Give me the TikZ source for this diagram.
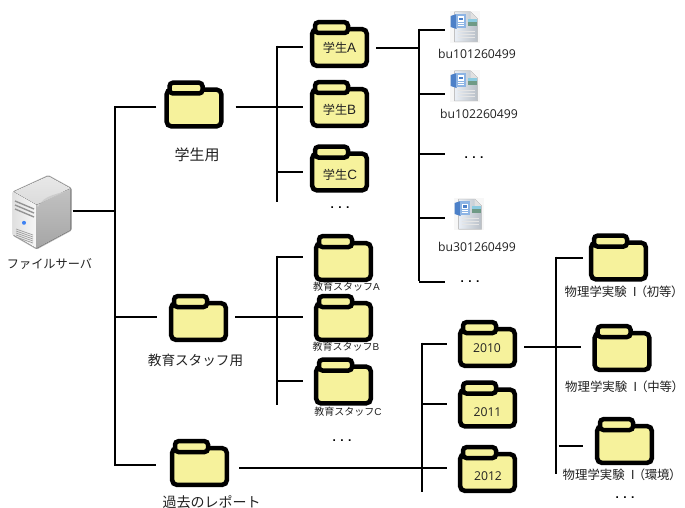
\documentclass[tikz,border=0pt]{standalone}
\usepackage{fontspec}
\setmainfont{Noto Sans CJK JP}
\newfontfamily\latinf{Liberation Sans}
\newfontfamily\filef{Open Sans}
\usetikzlibrary{calc}
\definecolor{fyellow}{HTML}{F6F29C}
\definecolor{ink}{HTML}{222222}
\definecolor{wlight}{HTML}{8DB4E4}
\definecolor{wdark}{HTML}{4C80C8}
\definecolor{wsky}{HTML}{8CCBE0}
\definecolor{wland}{HTML}{6F9A86}
\definecolor{wpage}{HTML}{DCE5F0}
\newcommand{\physlab}[1]{物理学実験\kern2ptⅠ\kern-.5pt{\addfontfeature{RawFeature=+palt}（#1）}}
\tikzset{
  conn/.style={draw=black,line width=2.8pt,line cap=butt,line join=miter},
  fbody/.style={draw=black,fill=fyellow,line width=4.5pt,rounded corners=4.5pt},
  fbox/.style={inner sep=0pt,minimum width=59pt,minimum height=41pt},
  txt/.style={inner sep=0pt,text=ink},
  dotsn/.style={inner sep=0pt,anchor=base,text=black,font=\fontsize{12}{14}\selectfont\latinf\bfseries},
  s15/.style={txt,font=\fontsize{15}{17}\selectfont},
  s14/.style={txt,font=\fontsize{14}{16}\selectfont},
  s13/.style={txt,font=\fontsize{13.6}{16}\selectfont},
  s12/.style={txt,font=\fontsize{12.2}{14}\selectfont},
  sp12/.style={txt,anchor=west,font=\fontsize{12.4}{14}\selectfont},
  s10/.style={txt,font=\fontsize{10}{11}\selectfont},
  fname/.style={txt,font=\fontsize{12.2}{14}\selectfont\filef},
}
\newcommand{\fldr}[3]{%
  \begin{scope}[shift={(#2,#3)}]
    \draw[fbody] (-27.3,-18.3) rectangle (27.3,18.3);
    \draw[fbody,rounded corners=3.5pt] (-24.5,-25.3) rectangle (8.5,-14.5);
  \end{scope}
  \node[fbox] (#1) at (#2,#3) {};}
\newcommand{\wordicon}[3]{%
  \begin{scope}[shift={(#2,#3)}]
    \fill[black!3] (0,0) rectangle (30,32);
    \fill[left color=wpage!60!white,right color=wpage!80!black!90] (5,1) -- (21,1) -- (28,8) -- (28,31) -- (5,31) -- cycle;
    \draw[black!22,line width=.5pt] (5,1) -- (21,1) -- (28,8) -- (28,31) -- (5,31) -- cycle;
    \fill[white!88!black] (21,1) -- (21,8) -- (28,8) -- cycle;
    \foreach \yy in {20,23,26} \draw[black!10,line width=.6pt] (8,\yy) -- (25,\yy);
    \fill[wdark] (1,5) -- (7,3) -- (7,18) -- (1,16) -- cycle;
    \fill[wlight] (6,3) rectangle (16,17);
    \fill[white] (8,5.5) rectangle (14.5,11);
    \fill[wdark] (9,7) rectangle (13.5,9.5);
    \foreach \yy in {12.5,14.5} \draw[white,line width=.7pt] (8,\yy) -- (14.5,\yy);
    \fill[wsky] (18,8) rectangle (27,11);
    \fill[wland] (18,11) rectangle (27,15);
  \end{scope}
  \node[inner sep=0pt,minimum width=30pt,minimum height=32pt] (#1) at (#2+15,#3+16) {};}
\begin{document}
\begin{tikzpicture}[x=1pt,y=-1pt]
\useasboundingbox (0,0) rectangle (685,508);
\fill[white] (0,0) rectangle (685,508);

% server
\node[inner sep=0pt,minimum width=60pt,minimum height=73pt] (server) at (42.5,212) {};
\fill[black!32,rounded corners=1.5pt] (12.5,191.5) -- (48.3,175) -- (71.8,188) -- (71.8,230.5) -- (36.7,249.5) -- (12.5,235.5) -- cycle;
\fill[top color=black!9,bottom color=black!14,rounded corners=1pt] (13.5,191.7) -- (48.3,176) -- (70.7,188.3) -- (36.7,205) -- cycle;
\fill[left color=black!12,right color=black!3] (13.5,191.7) -- (36.7,205) -- (36.7,248.3) -- (13.5,235) -- cycle;
\fill[top color=black!24,bottom color=black!35] (36.7,205) -- (70.7,188.3) -- (70.7,230) -- (36.7,248.3) -- cycle;
\fill[black!20] (38,207) .. controls (44,194) and (58,195) .. (70.7,189) -- (36.7,205) -- cycle;
\foreach \dy in {0,4,8}
  \draw[black!42,line width=1.4pt] (15,201+\dy) -- (34,209+\dy);
\foreach \dy in {0,2,4,6,8}
  \draw[black!38,line width=.7pt] (16,229+\dy) -- (33,235+\dy);
\fill[wlight!55!blue!80!cyan] (24,222.8) circle (2pt);

% folders
\fldr{stu}{194}{108}
\fldr{stuA}{339.5}{47.5}
\fldr{stuB}{339.5}{107.5}
\fldr{stuC}{339.5}{172}
\fldr{sta}{198.5}{321.5}
\fldr{staA}{343.5}{261.5}
\fldr{staB}{343.5}{321.5}
\fldr{staC}{343.5}{385}
\fldr{old}{199.5}{466.5}
\fldr{y10}{487.5}{347.5}
\fldr{y11}{487.5}{408}
\fldr{y12}{487.5}{472.5}
\fldr{phA}{618.5}{261}
\fldr{phB}{622}{351.5}
\fldr{phC}{624.5}{444.5}

% files
\wordicon{fA}{449.5}{11}
\wordicon{fB}{449.5}{70}
\wordicon{fC}{453.5}{198}

% main tree
\coordinate (t0a) at (115,107);
\coordinate (t0b) at (115,211);
\coordinate (t0c) at (115,317);
\coordinate (t0d) at (115,465);
\draw[conn] (t0a -| stu.west) ++(-8,0) -- (t0a) -- (t0d) -- ([xshift=-14pt]t0d -| old.west);
\draw[conn] (server.east |- t0b) -- (t0b);
\draw[conn,shorten >=12pt] (t0c) -- (t0c -| sta.west);

% students
\coordinate (t1a) at (277,47);
\coordinate (t1b) at (277,107);
\coordinate (t1c) at (277,172);
\coordinate (t1d) at (277,202);
\draw[conn,shorten >=7pt] (t1a) -- (t1a -| stuA.west);
\draw[conn] (t1a) ++(0,-1.4) -- (t1d);
\draw[conn,shorten >=7pt] (t1b) -- (t1b -| stuB.west);
\draw[conn,shorten >=7pt] (t1c) -- (t1c -| stuC.west);
\draw[conn,shorten <=12pt] (t1b -| stu.east) -- (t1b);

% files tree
\coordinate (t2a) at (419,30);
\coordinate (t2b) at (419,48);
\coordinate (t2c) at (419,94);
\coordinate (t2d) at (419,154);
\coordinate (t2e) at (419,218);
\coordinate (t2f) at (419,282);
\coordinate (e2d) at (445,154);
\coordinate (e2f) at (445,282);
\draw[conn,shorten >=4.5pt] (t2a) -- (t2a -| fA.west);
\draw[conn] (t2a) ++(0,-1.4) -- ([yshift=1.4pt]t2f);
\draw[conn,shorten <=7pt] (t2b -| stuA.east) -- (t2b);
\draw[conn,shorten >=4.5pt] (t2c) -- (t2c -| fB.west);
\draw[conn] (t2d) -- (e2d);
\draw[conn,shorten >=8.5pt] (t2e) -- (t2e -| fC.west);
\draw[conn] (t2f) -- (e2f);

% staff tree
\coordinate (t3a) at (277,257);
\coordinate (t3b) at (277,317);
\coordinate (t3c) at (277,381);
\coordinate (t3d) at (277,405);
\draw[conn,shorten >=11pt] (t3a) -- (t3a -| staA.west);
\draw[conn] (t3a) ++(0,-1.4) -- (t3d);
\draw[conn,shorten >=11pt] (t3b) -- (t3b -| staB.west);
\draw[conn,shorten >=11pt] (t3c) -- (t3c -| staC.west);
\draw[conn,shorten <=7pt] (t3b -| sta.east) -- (t3b);

% years tree
\coordinate (t4a) at (422,344);
\coordinate (t4b) at (422,404);
\coordinate (t4c) at (422,468);
\coordinate (t4d) at (422,492);
\draw[conn,shorten >=11pt] (t4a) -- (t4a -| y10.west);
\draw[conn] (t4a) ++(0,-1.4) -- (t4d);
\draw[conn,shorten >=11pt] (t4b) -- (t4b -| y11.west);
\draw[conn,shorten >=11pt] (t4c) -- (t4c -| y12.west);
\draw[conn,shorten <=10pt] (t4c -| old.east) -- (t4c);

% physics tree
\coordinate (t5a) at (556,258);
\coordinate (t5b) at (556,347);
\coordinate (t5c) at (558.5,446);
\coordinate (t5d) at (556,474);
\draw[conn,shorten >=6pt] (t5a) -- (t5a -| phA.west);
\draw[conn] (t5a) ++(0,-1.4) -- (t5d);
\draw[conn,shorten >=11pt] (t5b) -- (t5b -| phB.west);
\draw[conn,shorten <=7pt] (t5b -| y10.east) -- (t5b);
\draw[conn,shorten >=12pt] (t5c) -- (t5c -| phC.west);

% labels
\node[s12] (lsrv) at (49.5,264) {ファイルサーバ};
\node[s15] (lstu) at (197,155) {学生用};
\node[s13] (lsta) at (195.5,360) {教育スタッフ用};
\node[s14] (lold) at (211.5,502) {過去のレポート};
\node[s12] (lA) at (339.5,48) {学生{\fontsize{13.5}{14}\selectfont\latinf A}};
\node[s12] (lB) at (339.5,110) {学生{\fontsize{13.5}{14}\selectfont\latinf B}};
\node[s12] (lC) at (340,175) {学生{\fontsize{13.5}{14}\selectfont\latinf C}};
\node[s10] (lsA) at (346.5,287) {教育スタッフ{\latinf A}};
\node[s10] (lsB) at (346,347) {教育スタッフ{\latinf B}};
\node[s10] (lsC) at (348,412) {教育スタッフ{\latinf C}};
\node[fname] (l10) at (487,348) {2010};
\node[fname] (l11) at (487.5,412) {2011};
\node[fname] (l12) at (488,476) {2012};
\node[fname] (nA) at (477,54) {bu101260499};
\node[fname] (nB) at (479,114) {bu102260499};
\node[fname] (nC) at (477,247) {bu301260499};
\node[sp12] (lpA) at (564.5,292) {\physlab{初等}};
\node[sp12] (lpB) at (565,387) {\physlab{中等}};
\node[sp12] (lpC) at (562.5,475) {\physlab{環境}};
\node[dotsn] (d1) at (340,208) {. . .};
\node[dotsn] (d2) at (474,158) {. . .};
\node[dotsn] (d3) at (470,282) {. . .};
\node[dotsn] (d4) at (342,441) {. . .};
\node[dotsn] (d5) at (625,498) {. . .};
\end{tikzpicture}
\end{document}
